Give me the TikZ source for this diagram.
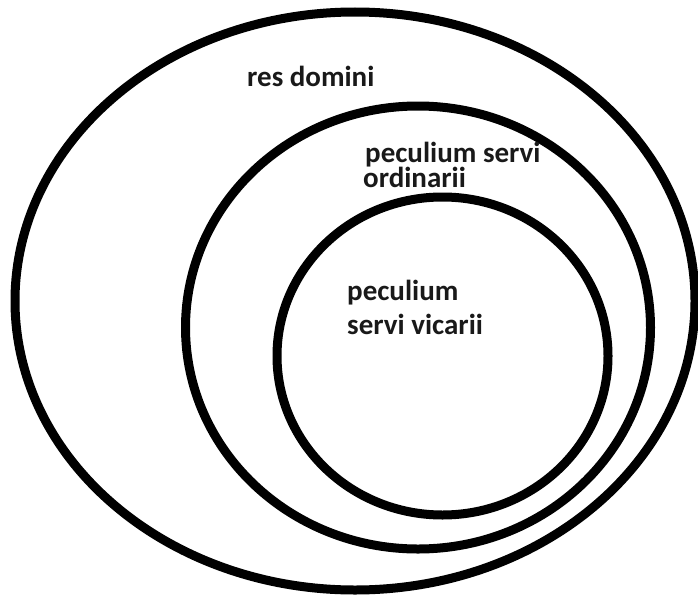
\documentclass[tikz,border=0pt]{standalone}
\usepackage{fontspec}
\setmainfont{Carlito}
\tikzset{
  ring/.style={draw=black, line width=9pt},
  lbl/.style={anchor=base west, inner sep=0pt, font=\fontsize{29}{29}\selectfont\bfseries, text=black!90}
}
\begin{document}
\begin{tikzpicture}[x=1pt, y=-1pt]
  \useasboundingbox[fill=white] (0,0) rectangle (698,594);
  % three nested sets
  \draw[ring] (355,301) ellipse [x radius=340, y radius=289];
  \draw[ring] (418,327.5) ellipse [x radius=232.5, y radius=221.5];
  \draw[ring] (442.5,356) ellipse [x radius=165.5, y radius=159];
  % labels
  \node[lbl] (res) at (247,86) {res domini};
  \node[lbl] (ord1) at (365,162) {peculium servi};
  \node[lbl] (ord2) at (363,187) {ordinarii};
  \node[lbl] (vic1) at (347,300) {peculium};
  \node[lbl] (vic2) at (347,334) {servi vicarii};
\end{tikzpicture}
\end{document}
